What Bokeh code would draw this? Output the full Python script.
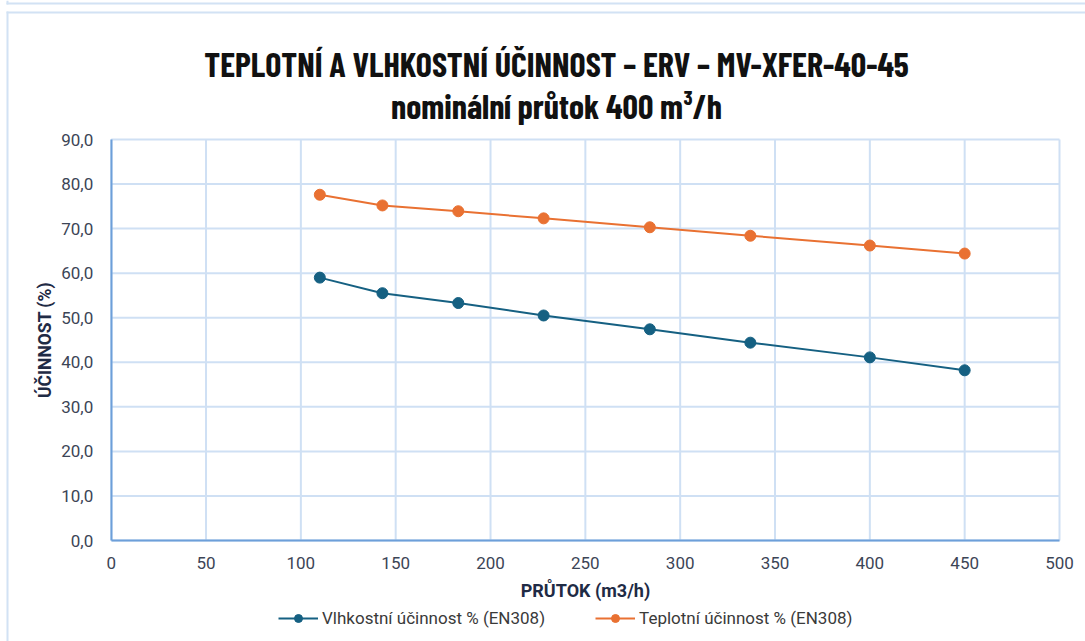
from bokeh.plotting import figure
from bokeh.models import Legend, LegendItem, FixedTicker, Range1d, Label, BoxAnnotation
from bokeh.embed import file_html
from bokeh.resources import INLINE

# ---- data ----
flow = [110, 143, 183, 228, 284, 337, 400, 450]
humidity_eff = [59.0, 55.5, 53.3, 50.5, 47.4, 44.4, 41.1, 38.2]
temperature_eff = [77.6, 75.2, 73.9, 72.3, 70.3, 68.4, 66.2, 64.4]

x_ticks = [0, 50, 100, 150, 200, 250, 300, 350, 400, 450, 500]
y_ticks = [0, 10, 20, 30, 40, 50, 60, 70, 80, 90]
y_tick_labels = ["0,0", "10,0", "20,0", "30,0", "40,0", "50,0", "60,0", "70,0", "80,0", "90,0"]

title_line1 = "TEPLOTNÍ A VLHKOSTNÍ ÚČINNOST – ERV – MV-XFER-40-45"
title_line2 = "nominální průtok 400 m³/h"
x_label = "PRŮTOK (m3/h)"
y_label = "ÚČINNOST (%)"
series_names = ["Vlhkostní účinnost % (EN308)", "Teplotní účinnost % (EN308)"]
series_colors = ["#156082", "#E97132"]

TITLE_FONT = "Barlow Condensed"
TEXT_FONT = "Roboto"
TEXT_COLOR = "#3c4556"
GRID = "#cfe0f4"
AXIS = "#6d9fd9"
BORDER = "#d2e2f4"

# ---- layout (pixels) ----
W, H = 1085, 641
FR_L, FR_R, FR_T, FR_B = 110.7, 1059, 139, 540   # plot area in page pixels
X_MIN, X_MAX = 0, 500
Y_MIN, Y_MAX = 0, 90
sx = (FR_R - FR_L) / (X_MAX - X_MIN)
sy = (FR_B - FR_T) / (Y_MAX - Y_MIN)
x_range = Range1d(X_MIN - FR_L / sx, X_MAX + (W - FR_R) / sx)
y_range = Range1d(Y_MIN - (H - FR_B) / sy, Y_MAX + FR_T / sy)

p = figure(width=W, height=H, output_backend="svg", toolbar_location=None,
           x_range=x_range, y_range=y_range,
           min_border_left=0, min_border_right=0, min_border_top=0, min_border_bottom=0)
p.title = None
p.outline_line_color = None
p.xgrid.visible = False
p.ygrid.visible = False

# chart border strips (page-frame decoration)
for kw in (dict(left=6, right=W, top=H - 2, bottom=H - 4),
           dict(left=6, right=8, top=H, bottom=H - 4),
           dict(left=6, right=W, top=H - 11, bottom=H - 13),
           dict(left=6, right=8, top=H - 11, bottom=0)):
    p.add_layout(BoxAnnotation(left_units="screen", right_units="screen", top_units="screen",
                               bottom_units="screen", fill_color=BORDER, fill_alpha=1,
                               line_color=None, level="underlay", **kw))

# grid lines over the data area
p.segment(x0=x_ticks, y0=[Y_MIN] * len(x_ticks), x1=x_ticks, y1=[Y_MAX] * len(x_ticks),
          line_color=GRID, line_width=2, level="underlay")
p.segment(x0=[X_MIN] * len(y_ticks), y0=y_ticks, x1=[X_MAX] * len(y_ticks), y1=y_ticks,
          line_color=GRID, line_width=2, level="underlay")

for ax in (p.xaxis[0], p.yaxis[0]):
    ax.axis_line_color = AXIS
    ax.axis_line_width = 2
    ax.major_tick_line_color = None
    ax.minor_tick_line_color = None
    ax.major_label_text_font = TEXT_FONT
    ax.major_label_text_font_size = "17px"
    ax.major_label_text_color = TEXT_COLOR
    ax.axis_label_text_font = TEXT_FONT
    ax.axis_label_text_font_style = "bold"
    ax.axis_label_text_color = "#1f2b45"

p.xaxis.axis_label_text_font_size = "18px"
p.yaxis.axis_label_text_font_size = "17.5px"
p.xaxis.fixed_location = Y_MIN
p.yaxis.fixed_location = X_MIN
p.xaxis.bounds = (X_MIN, X_MAX)
p.yaxis.bounds = (Y_MIN, Y_MAX)
p.xaxis.ticker = FixedTicker(ticks=x_ticks)
p.yaxis.ticker = FixedTicker(ticks=y_ticks)
p.yaxis.major_label_overrides = {t: l for t, l in zip(y_ticks, y_tick_labels)}
p.xaxis.axis_label = x_label
p.yaxis.axis_label = y_label
p.xaxis.major_label_standoff = 10
p.yaxis.major_label_standoff = 12
p.xaxis.axis_label_standoff = 8
p.yaxis.axis_label_standoff = 3

items = []
for ys, name, col in zip([humidity_eff, temperature_eff], series_names, series_colors):
    l = p.line(flow, ys, line_color=col, line_width=2)
    c = p.scatter(flow, ys, size=11, fill_color=col, line_color=col)
    items.append(LegendItem(label=name, renderers=[l, c]))

legend = Legend(items=items, orientation="horizontal", location=(278, 13),
                label_text_font=TEXT_FONT, label_text_font_size="17px",
                label_text_color="#3a3a3a", border_line_color=None,
                background_fill_alpha=0, spacing=50, padding=0, margin=0,
                glyph_width=40, glyph_height=20, label_standoff=4)
p.add_layout(legend, "center")

for txt, base in ((title_line1, 63), (title_line2, 105)):
    p.add_layout(Label(x=556, y=H - base, x_units="screen", y_units="screen", text=txt,
                       text_align="center", text_baseline="alphabetic",
                       text_font=TITLE_FONT, text_font_size="34px", text_font_style="bold",
                       text_color="#111111"))

open("out.html", "w").write(file_html(p, INLINE))
